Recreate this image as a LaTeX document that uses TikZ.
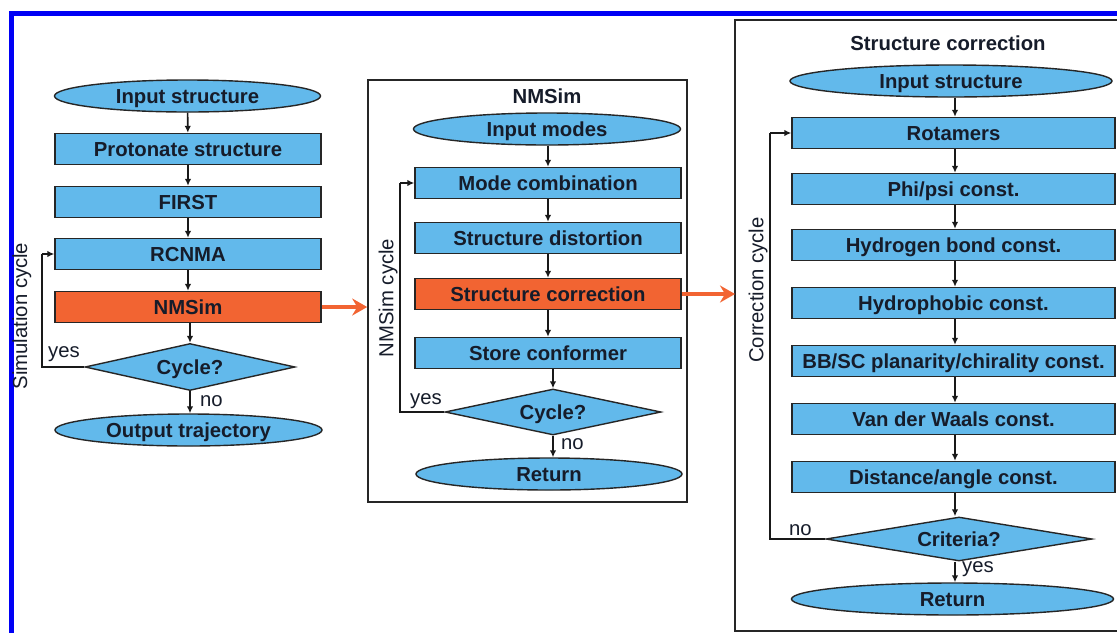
\documentclass[tikz,border=0pt]{standalone}
\usepackage{fontspec}
\setmainfont{Liberation Sans}
\usetikzlibrary{shapes.geometric,arrows.meta}
\definecolor{boxblue}{RGB}{98,185,235}
\definecolor{boxorange}{RGB}{242,100,50}
\definecolor{txt}{RGB}{22,28,42}
\definecolor{frameblue}{RGB}{0,0,245}
\begin{document}
\begin{tikzpicture}[x=1pt,y=-1pt,
  base/.style={draw=black!85, line width=1.4pt, inner sep=0pt, text=txt, text height=14.6pt, text depth=0pt, font=\bfseries\fontsize{20.3}{23}\selectfont},
  proc/.style={base, rectangle, fill=boxblue, minimum height=31pt},
  hot/.style={base, rectangle, fill=boxorange, minimum height=31pt},
  term/.style={base, ellipse, fill=boxblue, minimum height=32pt},
  dec/.style={base, diamond, fill=boxblue, aspect=4.5},
  flow/.style={-{Latex[length=7pt,width=6.5pt]}, line width=1.6pt, black!90},
  loopline/.style={line width=1.6pt, black!90},
  bigarrow/.style={boxorange, line width=4.5pt, -{Stealth[length=15pt,width=17pt,inset=5pt]}},
  frame/.style={draw=black!85, line width=1.6pt},
  lab/.style={font=\fontsize{20.3}{23}\selectfont, text=txt, inner sep=0pt},
  ttl/.style={font=\bfseries\fontsize{20.3}{23}\selectfont, text=txt, inner sep=0pt}]
\useasboundingbox (0,0) rectangle (1117,633);
\fill[white] (0,0) rectangle (1117,633);
% blue outer frame
\fill[frameblue] (9,11) rectangle (1117,16);
\fill[frameblue] (9,11) rectangle (14,633);

% ---------- left column ----------
\node[term, minimum width=266pt] (in1) at (187.5,96) {Input structure};
\node[proc, minimum width=266pt] (prot) at (188,149) {Protonate structure};
\node[proc, minimum width=266pt] (first) at (188,202) {FIRST};
\node[proc, minimum width=266pt] (rcnma) at (188,254) {RCNMA};
\node[hot, minimum width=266pt] (nms) at (188,307) {NMSim};
\node[dec, minimum width=210pt, minimum height=47pt] (cyc1) at (190,367) {Cycle?};
\node[term, minimum width=267pt] (out1) at (188.5,430) {Output trajectory};
\coordinate (l1) at (42,367);
\coordinate (l1t) at (42,254);
\draw[flow] (in1) -- (prot);
\draw[flow] (prot) -- (first);
\draw[flow] (first) -- (rcnma);
\draw[flow] (rcnma) -- (nms);
\draw[flow] (nms.south -| cyc1.north) -- (cyc1.north);
\draw[flow] (cyc1) -- (cyc1.south |- out1.north);
\draw[loopline] (cyc1.west) -- (l1) -- (l1t);
\draw[flow] (l1t) -- (rcnma.west);
\node[lab, anchor=south west] (yes1) at (48,362) {yes};
\node[lab, anchor=west] (no1) at (200,401) {no};
\node[lab, rotate=90] (simc) at (22,316) {Simulation cycle};

% ---------- middle box ----------
\node[frame, minimum width=319pt, minimum height=422pt, inner sep=0pt] (mbox) at (527.5,291) {};
\node[ttl] (mttl) at (547,96) {NMSim};
\node[term, minimum width=267pt] (inm) at (547,129) {Input modes};
\node[proc, minimum width=266pt] (mcomb) at (548,183) {Mode combination};
\node[proc, minimum width=266pt] (sdist) at (548,238) {Structure distortion};
\node[hot, minimum width=266pt] (scorr) at (548,294) {Structure correction};
\node[proc, minimum width=266pt] (store) at (548,353) {Store conformer};
\node[dec, minimum width=216pt, minimum height=46pt] (cyc2) at (553,412) {Cycle?};
\node[term, minimum width=266pt] (ret2) at (549,474) {Return};
\coordinate (l2) at (400,412);
\coordinate (l2t) at (400,183);
\draw[flow] (inm.south -| mcomb.north) -- (mcomb.north);
\draw[flow] (mcomb) -- (sdist);
\draw[flow] (sdist) -- (scorr);
\draw[flow] (scorr) -- (store);
\draw[flow] (store.south -| cyc2.north) -- (cyc2.north);
\draw[flow] (cyc2) -- (cyc2.south |- ret2.north);
\draw[loopline] (cyc2.west) -- (l2) -- (l2t);
\draw[flow] (l2t) -- (mcomb.west);
\node[lab, anchor=south west] (yes2) at (410,409) {yes};
\node[lab, anchor=west] (no2) at (561,444) {no};
\node[lab, rotate=90] (nmc) at (388,298) {NMSim cycle};

% ---------- right box ----------
\draw[frame] (1125,20) -- (735,20) -- (735,631) -- (1125,631);
\coordinate (rboxw) at (735,294);
\node[ttl] (rttl) at (948,43) {Structure correction};
\node[term, minimum width=322pt] (in3) at (951,81) {Input structure};
\node[proc, minimum width=323pt] (rot) at (953.5,133) {Rotamers};
\node[proc, minimum width=323pt] (phi) at (953.5,189) {Phi/psi const.};
\node[proc, minimum width=323pt] (hb) at (953.5,245) {Hydrogen bond const.};
\node[proc, minimum width=323pt] (hph) at (953.5,303) {Hydrophobic const.};
\node[proc, minimum width=323pt] (bb) at (953.5,361) {BB/SC planarity/chirality const.};
\node[proc, minimum width=323pt] (vdw) at (953.5,419) {Van der Waals const.};
\node[proc, minimum width=323pt] (dist) at (953.5,477) {Distance/angle const.};
\node[dec, minimum width=266pt, minimum height=44pt] (crit) at (959,539) {Criteria?};
\node[term, minimum width=322pt] (ret3) at (952.5,599) {Return};
\coordinate (l3) at (770,539);
\coordinate (l3t) at (770,133);
\draw[flow] (in3.south -| 955,0) -- (rot.north -| 955,0);
\draw[flow] (rot.south -| 955,0) -- (phi.north -| 955,0);
\draw[flow] (phi.south -| 955,0) -- (hb.north -| 955,0);
\draw[flow] (hb.south -| 955,0) -- (hph.north -| 955,0);
\draw[flow] (hph.south -| 955,0) -- (bb.north -| 955,0);
\draw[flow] (bb.south -| 955,0) -- (vdw.north -| 955,0);
\draw[flow] (vdw.south -| 955,0) -- (dist.north -| 955,0);
\draw[flow] (dist.south -| 955,0) -- (crit.north -| 955,0);
\draw[flow] (crit.south -| 955,0) -- (ret3.north -| 955,0);
\draw[loopline] (crit.west) -- (l3) -- (l3t);
\draw[flow] (l3t) -- (rot.west);
\node[lab, anchor=south west] (no3) at (789,536) {no};
\node[lab, anchor=west] (yes3) at (962,569) {yes};
\node[lab, rotate=90] (corc) at (758,290) {Correction cycle};

% ---------- orange transfer arrows ----------
\draw[bigarrow] (nms.east) -- (mbox.west |- nms.east);
\draw[bigarrow] (scorr.east) -- (rboxw);
\end{tikzpicture}
\end{document}
